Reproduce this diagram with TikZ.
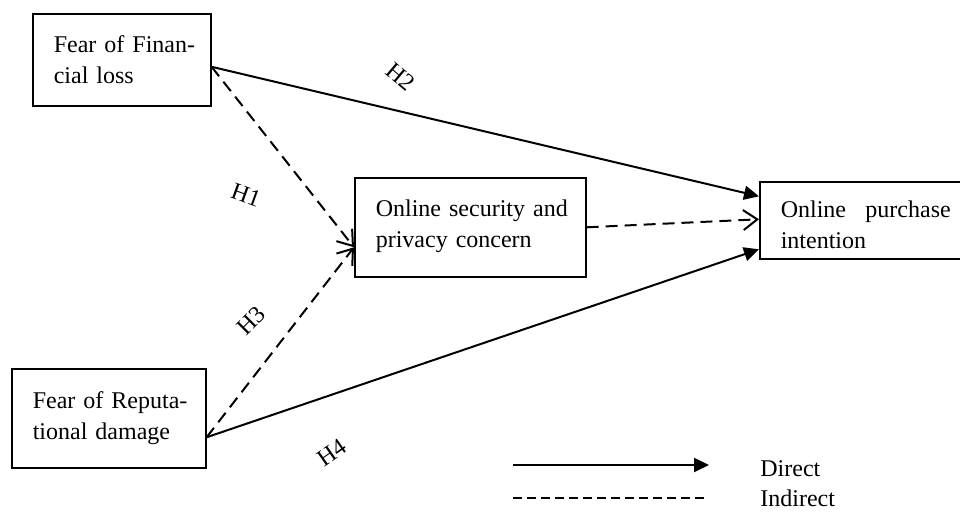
\documentclass[tikz,border=0pt]{standalone}
\usepackage{fontspec}
\setmainfont{Liberation Serif}
\usetikzlibrary{arrows.meta}
\begin{document}
\begin{tikzpicture}[x=0.5pt,y=-0.5pt, % pixel grid, y down
    box/.style={draw,line width=0.8pt,align=left,anchor=north west,inner xsep=10.5pt,font=\fontsize{12}{15.5}\selectfont},
    direct/.style={line width=1pt,-{Triangle[length=7.5pt,width=7pt]}},
    indirect/.style={line width=1pt,dash pattern=on 6pt off 3.5pt,-{Straight Barb[length=7pt,width=10pt,line width=1pt]}},
    hyp/.style={font=\fontsize{12}{14}\selectfont}]
        \useasboundingbox (0,0) rectangle (960,512);
        \clip (0,0) rectangle (960,512);

        % Boxes
        \node[box,minimum width=89pt,minimum height=46pt,text width=68pt] (ffl) at (32,13) {\mbox{Fear of Finan-}\\cial loss};
        \node[box,minimum width=115.5pt,minimum height=49.5pt,text width=94.5pt,text height=7pt] (ospc) at (354,177) {\mbox{Online security and}\\privacy concern};
        \node[box,minimum width=110pt,minimum height=38.5pt,text width=89pt,text height=13pt] (opi) at (759,181) {\makebox[85pt][l]{Online\hfill purchase}\\intention};
        \node[box,minimum width=97pt,minimum height=49.5pt,text width=76pt] (frd) at (11,368) {\mbox{Fear of Reputa-}\\tional damage};

        % Paths
        \draw[direct] ([yshift=-3.5pt]ffl.east) -- ([yshift=12pt]opi.west);
        \draw[indirect] ([yshift=-3.5pt]ffl.east) -- ([yshift=-10pt]ospc.west);
        \draw[indirect] ([yshift=-9.5pt]frd.east) -- ([yshift=-10pt]ospc.west);
        \draw[direct] ([yshift=-9.5pt]frd.east) -- ([yshift=-14.5pt]opi.west);
        \draw[indirect] (ospc.east) -- ([yshift=0.5pt]opi.west);

        \node[hyp,rotate=-40] (h2) at (401,77) {H2};
        \node[hyp,rotate=-20] (h1) at (246,195) {H1};
        \node[hyp,rotate=45] (h3) at (251,321) {H3};
        \node[hyp,rotate=35] (h4) at (332,453) {H4};

        % Legend
        \coordinate (d1) at (513,465);
        \coordinate (d2) at (709,465);
        \coordinate (i1) at (513,498);
        \coordinate (i2) at (708,498);
        \draw[direct] (d1) -- (d2);
        \draw[line width=0.6pt,dash pattern=on 4.5pt off 2.5pt] (i1) -- (i2);
        \node[hyp,anchor=base west,inner xsep=0pt] (ldirect) at (760,477) {Direct};
        \node[hyp,anchor=base west,inner xsep=0pt] (lindirect) at (760,507) {Indirect};
\end{tikzpicture}
\end{document}
